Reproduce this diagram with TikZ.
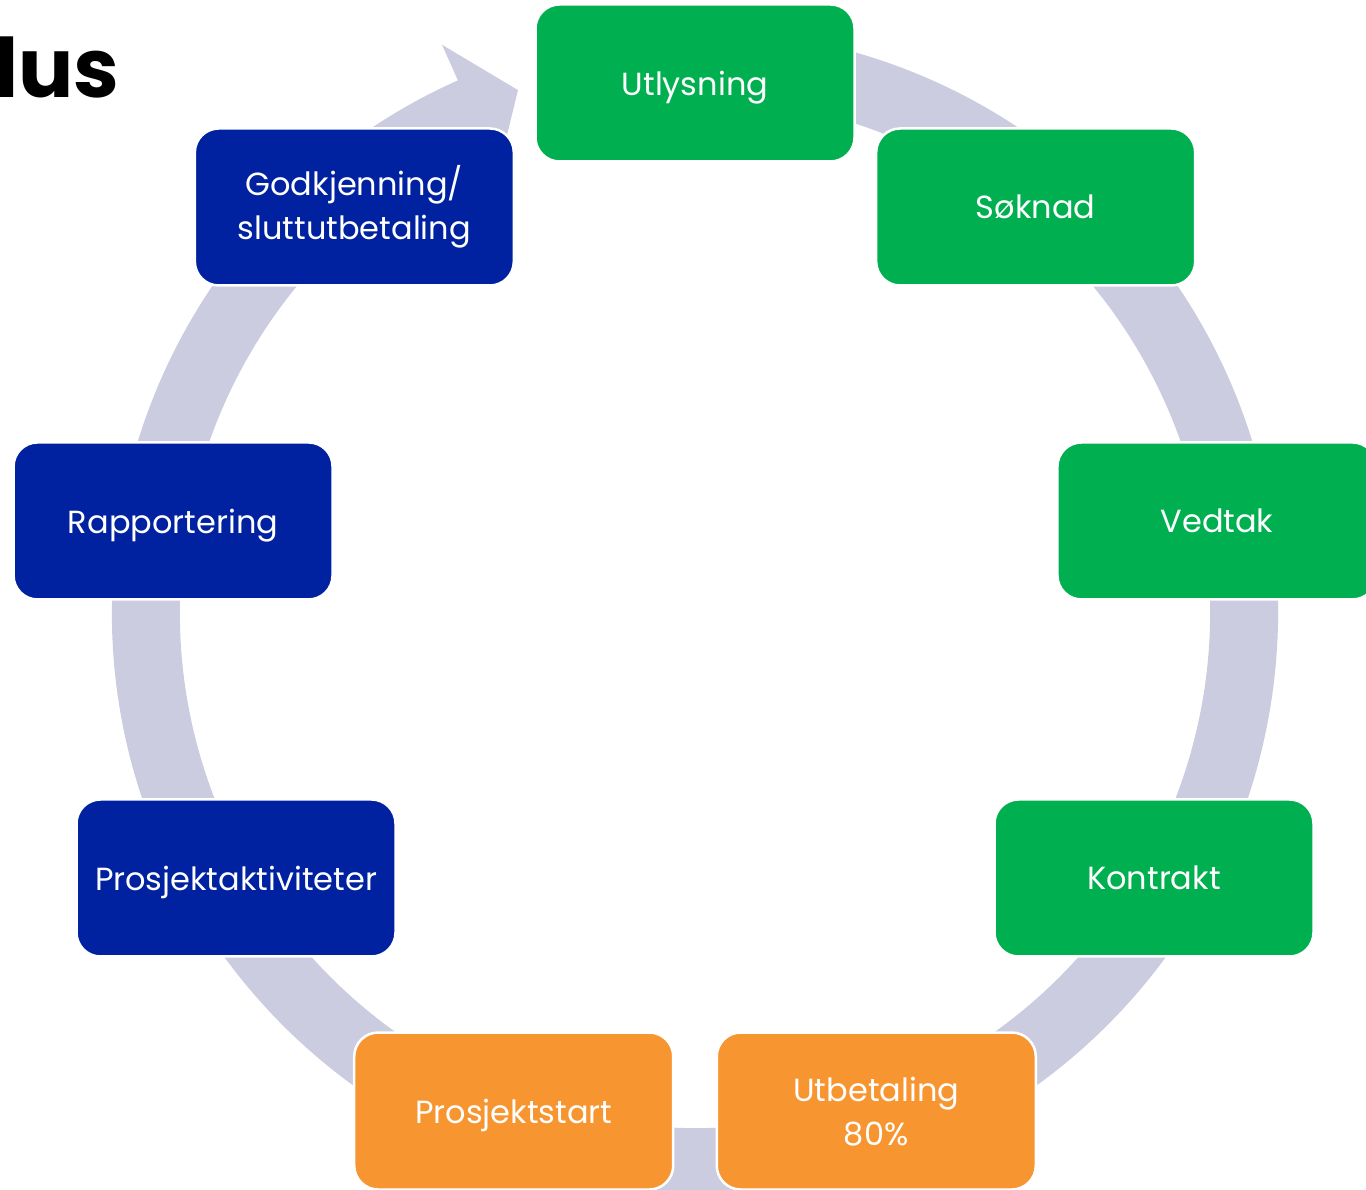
\documentclass[tikz,border=0pt]{standalone}
\usepackage{fontspec}
\setmainfont{Poppins}
\usepackage{tikz}
\usetikzlibrary{positioning}
\definecolor{fasegreen}{HTML}{00B050}
\definecolor{faseblue}{HTML}{0022A0}
\definecolor{faseorange}{HTML}{F79530}
\definecolor{ringgray}{HTML}{CBCCE0}
\tikzset{
  stage/.style={rectangle, minimum width=319pt, minimum height=157pt, rounded corners=24pt, draw=white, line width=2.5pt, text=white, align=center, text depth=0pt, font=\fontsize{32}{44}\selectfont},
  twolines/.style={text depth={}},
  greenstage/.style={stage, fill=fasegreen},
  bluestage/.style={stage, fill=faseblue},
  orangestage/.style={stage, fill=faseorange},
  ring/.style={fill=ringgray}
}

\begin{document}
\begin{tikzpicture}[x=1pt, y=1pt]
    \useasboundingbox (0,0) rectangle (1366,1190);
    \clip (0,0) rectangle (1366,1190);
    % Title
    \node[anchor=base west, inner sep=0pt, font=\fontsize{82}{82}\selectfont\bfseries] (title) at (-6,1092) {lus};

    \begin{scope}[shift={(695,577)}]
    % Drawing the cycle arrow
    \fill[ring] (80:583) arc[start angle=80, end angle=-246, radius=583]
        -- (-246:622) -- (-251.3:552) -- (-246:484) -- (-246:515)
        arc[start angle=-246, end angle=80, radius=515] -- cycle;

    % Defining nodes
    \node[greenstage] (utlysning) at (90:530) {Utlysning};
    \node[greenstage] (soknad) at (50:530) {Søknad};
    \node[greenstage] (vedtak) at (10:530) {Vedtak};
    \node[greenstage] (kontrakt) at (-30:530) {Kontrakt};
    \node[orangestage] (utbetaling) at (-70:530) {Utbetaling\\80\%};
    \node[orangestage] (start) at (-110:530) {Prosjektstart};
    \node[bluestage] (aktiviteter) at (-150:530) {Prosjektaktiviteter};
    \node[bluestage] (rapportering) at (170:530) {Rapportering};
    \node[bluestage, twolines] (godkjenning) at (130:530) {Godkjenning/\\sluttutbetaling};
    \end{scope}
\end{tikzpicture}
\end{document}
